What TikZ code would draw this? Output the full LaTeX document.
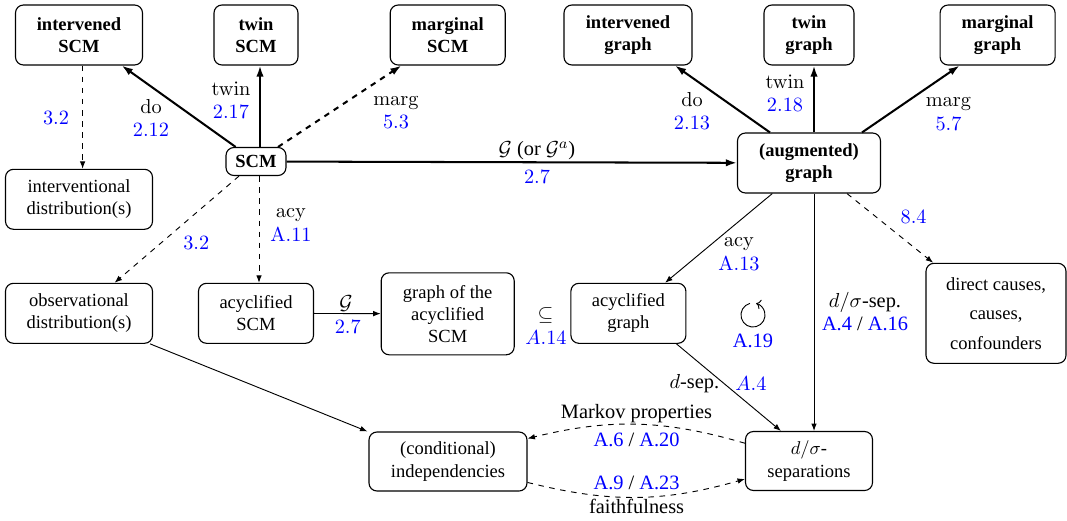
\documentclass[tikz,border=0pt]{standalone}
\usepackage[no-math]{fontspec}
\setmainfont{Liberation Serif}
\usetikzlibrary{arrows.meta,calc}
\begin{document}
\begin{tikzpicture}[x=0.54pt,y=-0.54pt,
  box/.style={draw,rounded corners=4.3pt,line width=0.6pt,align=center,inner sep=0pt},
  bbox/.style={box,font=\bfseries},
  wh/.style 2 args={minimum width={#1*0.54pt},minimum height={#2*0.54pt}},
  thickarr/.style={line width=1.1pt,-{Latex[length=6pt,width=4pt]}},
  thinarr/.style={line width=0.5pt,-{Latex[length=4pt,width=3pt]}},
  lab/.style={align=center,inner sep=0pt,font=\fontsize{11}{12.6}\selectfont},
  refc/.style={text=blue}]
\useasboundingbox (0,0) rectangle (1067,520);
% nodes
\node[bbox,wh={127}{60}] (iSCM) at (79,35) {intervened\\SCM};
\node[bbox,wh={84}{60}] (tSCM) at (256,35) {twin\\SCM};
\node[bbox,wh={115}{60}] (mSCM) at (447.7,35) {marginal\\SCM};
\node[bbox,wh={60}{28}] (SCM) at (256,161.5) {SCM};
\node[box,wh={147}{60}] (intD) at (79,199.3) {interventional\\distribution(s)};
\node[box,wh={147}{60}] (obsD) at (79,313.3) {observational\\distribution(s)};
\node[box,wh={115}{60}] (acySCM) at (256,313.3) {acyclified\\SCM};
\node[box,wh={133}{82}] (gacy) at (447.7,313.8) {graph of the\\acyclified\\SCM};
\node[bbox,wh={128}{60}] (iG) at (628,35) {intervened\\graph};
\node[bbox,wh={90}{60}] (tG) at (809,35) {twin\\graph};
\node[bbox,wh={115}{60}] (mG) at (997.6,35) {marginal\\graph};
\node[bbox,wh={143}{60}] (aG) at (809,163) {(augmented)\\graph};
\node[box,wh={115}{60}] (acyG) at (628.4,313.3) {acyclified\\graph};
\node[box,wh={140}{100}] (dc) at (996,313.3) {direct causes,\\[4pt]causes,\\[4pt]confounders};
\node[box,wh={127}{59}] (dsep) at (809,461) {$d/\sigma$-\\separations};
\node[box,wh={158}{59}] (ind) at (448,461.5) {(conditional)\\independencies};
% connectors
\draw[thickarr] (SCM) -- (iSCM);
\draw[thickarr] ([xshift={4*0.54pt}]SCM.north) -- ([xshift={4*0.54pt}]tSCM.south);
\draw[thickarr,dashed] (SCM) -- (mSCM);
\draw[thinarr,dashed] ([xshift={3.6*0.54pt}]iSCM.south) -- ([xshift={3.6*0.54pt}]intD.north);
\draw[thickarr] (SCM) -- (aG);
\draw[thinarr,dashed] (SCM) -- (obsD);
\draw[thinarr,dashed] ([xshift={3*0.54pt}]SCM.south) -- ([xshift={3*0.54pt}]acySCM.north);
\draw[thinarr] (acySCM) -- (gacy);
\draw[thickarr] ([xshift={-39*0.54pt}]aG.north) -- ([xshift={47*0.54pt}]iG.south);
\draw[thickarr] ([xshift={5*0.54pt}]aG.north) -- ([xshift={5*0.54pt}]tG.south);
\draw[thickarr] ([xshift={53*0.54pt}]aG.north) -- ([xshift={-38*0.54pt}]mG.south);
\draw[thinarr,dashed] (aG) -- (dc);
\draw[thinarr] (aG) -- (acyG);
\draw[thinarr] ([xshift={5*0.54pt}]aG.south) -- ([xshift={5*0.54pt}]dsep.north);
\draw[thinarr] ([xshift={-10*0.54pt}]acyG.south east) -- ([xshift={36*0.54pt}]dsep.north west);
\draw[thinarr] ([xshift={-3*0.54pt}]obsD.south east) -- ([xshift={-1*0.54pt}]ind.north west);
\draw[thinarr,dashed] ([yshift=9.6pt]dsep.west) to[bend right=15] ([yshift=12.4pt]ind.east);
\draw[thinarr,dashed] ([yshift=-11.3pt]ind.east) to[bend right=15] ([yshift=-9.7pt]dsep.west);
% cycle symbol
\coordinate (cyc) at (753,315);
\draw[line width=0.5pt,-{To[length=2.5pt]}] ([shift={(105:6.5pt)}]cyc) arc[start angle=105,end angle=435,radius=6.5pt];
% labels
\node[lab] (l1) at (151,118) {$\mathrm{do}$\\\textcolor{blue}{$2.12$}};
\node[lab] (l2) at (231,100.5) {$\mathrm{twin}$\\\textcolor{blue}{$2.17$}};
\node[lab] (l3) at (396,112.5) {$\mathrm{marg}$\\\textcolor{blue}{$5.3$}};
\node[lab,refc] (l4) at (56,118.3) {$3.2$};
\node[lab] (l5a) at (537,151) {$\mathcal{G}$ (or $\mathcal{G}^a$)};
\node[lab,refc] (l5b) at (537,177) {$2.7$};
\node[lab,refc] (l6) at (196.3,242.7) {$3.2$};
\node[lab] (l7) at (291,225) {$\mathrm{acy}$\\\textcolor{blue}{$\mathrm{A}.11$}};
\node[lab] (l8a) at (346,303.3) {$\mathcal{G}$};
\node[lab,refc] (l8b) at (347.8,327.3) {$2.7$};
\node[lab] (l9a) at (545.4,315) {$\subseteq$};
\node[lab,refc] (l9b) at (546,337.3) {$A.14$};
\node[lab] (l10) at (692,111) {$\mathrm{do}$\\\textcolor{blue}{$2.13$}};
\node[lab] (l11) at (785,93) {$\mathrm{twin}$\\\textcolor{blue}{$2.18$}};
\node[lab] (l12) at (948.5,114) {$\mathrm{marg}$\\\textcolor{blue}{$5.7$}};
\node[lab,refc] (l13) at (913.6,216.7) {$8.4$};
\node[lab] (l14) at (739,254) {$\mathrm{acy}$\\\textcolor{blue}{$\mathrm{A}.13$}};
\node[lab] (l15) at (865,311.7) {$d/\sigma$-sep.\\\textcolor{blue}{A.4} / \textcolor{blue}{A.16}};
\node[lab,refc] (l16) at (753,341) {A.19};
\node[lab] (l17a) at (694.4,383.3) {$d$-sep.};
\node[lab,refc] (l17b) at (750.9,383.3) {$A.4$};
\node[lab] (l18a) at (636.5,413.3) {Markov properties};
\node[lab] (l18b) at (636.6,440) {\textcolor{blue}{A.6} / \textcolor{blue}{A.20}};
\node[lab] (l19a) at (636.6,483.3) {\textcolor{blue}{A.9} / \textcolor{blue}{A.23}};
\node[lab] (l19b) at (636.6,506.7) {faithfulness};
\end{tikzpicture}
\end{document}
